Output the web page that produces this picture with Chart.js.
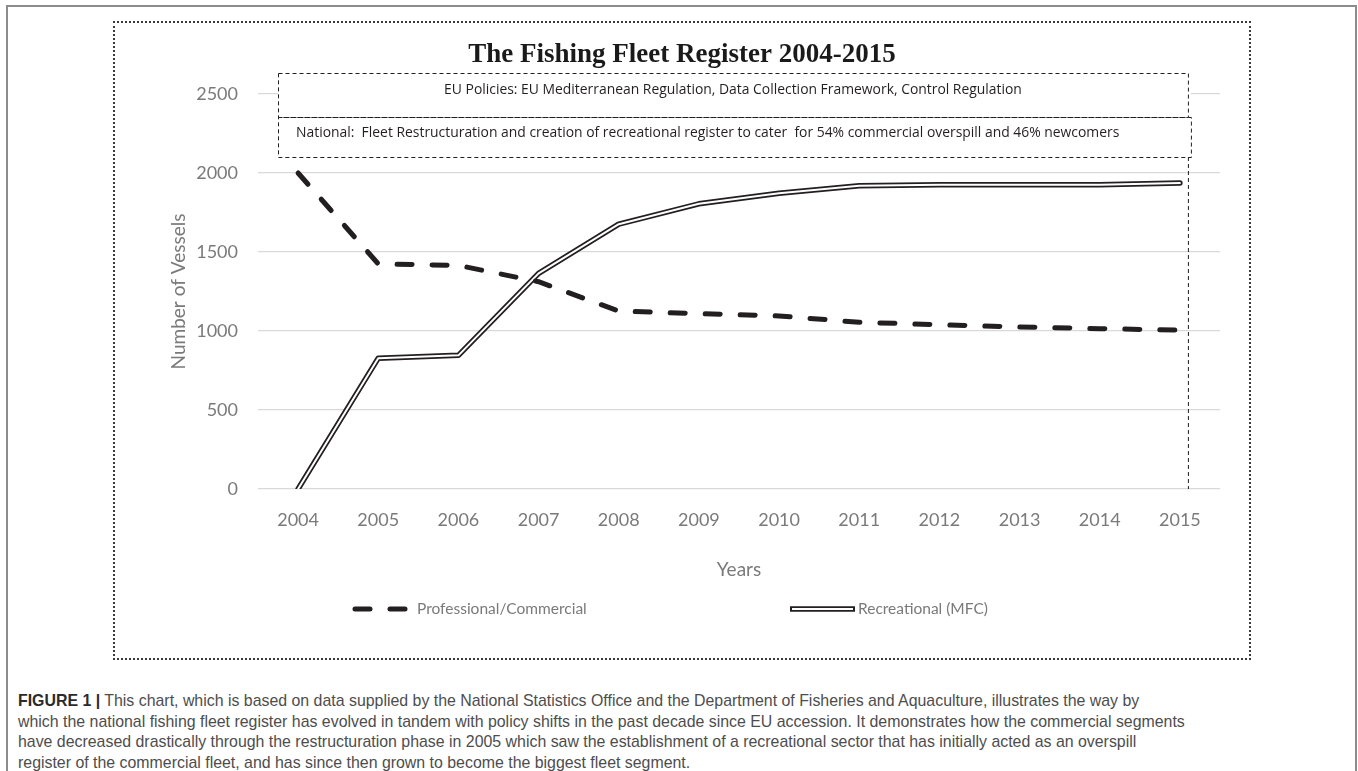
<!DOCTYPE html>
<html>
<head>
<meta charset="utf-8">
<script src="https://cdn.jsdelivr.net/npm/chart.js@4.4.0/dist/chart.umd.min.js"></script>
<style>
    html, body { margin: 0; padding: 0; background: #fff; }
    body { width: 1358px; height: 771px; position: relative; overflow: hidden; }
    #frame {
        position: absolute; left: 6px; top: 5px; width: 1347px; height: 800px;
        border: 2px solid #8c8c8c; border-bottom: none;
    }
    #chartBox {
        position: absolute; left: 113px; top: 21px; width: 1134px; height: 635px;
        border: 2px dotted #3a3a3a;
    }
    #chartBox canvas { position: absolute; left: 0; top: 0; }
    #caption {
        position: absolute; left: 18px; top: 691px;
        font-family: 'Liberation Sans', Arial, sans-serif; font-size: 15.9px; line-height: 20.5px;
        color: #4d4d4d; white-space: nowrap;
    }
    #caption b { color: #2b2b2b; }
</style>
</head>
<body>
<div id="frame"></div>
<div id="chartBox"><canvas id="fleetChart" width="1134" height="635"></canvas></div>
<div id="caption">
    <b>FIGURE 1 |</b> This chart, which is based on data supplied by the National Statistics Office and the Department of Fisheries and Aquaculture, illustrates the way by<br>
    which the national fishing fleet register has evolved in tandem with policy shifts in the past decade since EU accession. It demonstrates how the commercial segments<br>
    have decreased drastically through the restructuration phase in 2005 which saw the establishment of a recreational sector that has initially acted as an overspill<br>
    register of the commercial fleet, and has since then grown to become the biggest fleet segment.
</div>
<script>
// Data
const years = ['2004', '2005', '2006', '2007', '2008', '2009', '2010', '2011', '2012', '2013', '2014', '2015'];
const professional = [2000, 1425, 1415, 1312, 1126, 1110, 1095, 1055, 1040, 1025, 1015, 1005];
const recreational = [0, 828, 846, 1365, 1676, 1805, 1872, 1920, 1925, 1926, 1925, 1937];

const yTicks = [0, 500, 1000, 1500, 2000, 2500];

const chartTitle = 'The Fishing Fleet Register 2004-2015';
const policyNotes = [
    'EU Policies: EU Mediterranean Regulation, Data Collection Framework, Control Regulation',
    'National:  Fleet Restructuration and creation of recreational register to cater  for 54% commercial overspill and 46% newcomers'
];

const INK = '#231f20';
const AXIS_TEXT = '#7a7a7a';
const AXIS_FONT = 'Lato';

// Title, policy boxes, marker line for 2015
const decorPlugin = {
    id: 'decor',
    beforeDatasetsDraw(chart) {
        const { ctx, chartArea, scales: { x } } = chart;
        const left = chartArea.left + 20;
        const right1 = x.getPixelForValue(11) + 8;
        const right2 = right1 + 3;
        const top1 = chartArea.top - 21;
        const mid = chartArea.top + 23;
        const bottom2 = chartArea.top + 63;

        ctx.save();
        ctx.fillStyle = '#fff';
        ctx.fillRect(left, top1, right2 - left, bottom2 - top1);

        ctx.strokeStyle = INK;
        ctx.lineWidth = 1;
        ctx.setLineDash([4, 3]);
        ctx.strokeRect(left + 0.5, top1 + 0.5, right1 - left, mid - top1);
        ctx.strokeRect(left + 0.5, mid + 0.5, right2 - left, bottom2 - mid);

        // vertical dashed line down to the x axis
        ctx.beginPath();
        ctx.moveTo(right1 + 0.5, bottom2);
        ctx.lineTo(right1 + 0.5, chartArea.bottom);
        ctx.stroke();
        ctx.setLineDash([]);

        ctx.fillStyle = INK;
        ctx.font = '13.9px "Open Sans"';
        ctx.textBaseline = 'middle';
        ctx.textAlign = 'center';
        ctx.fillText(policyNotes[0], (left + right1) / 2, top1 + 17);
        ctx.textAlign = 'left';
        ctx.fillText(policyNotes[1], left + 18, mid + 16);

        // chart title
        ctx.font = 'bold 27px "Liberation Serif"';
        ctx.textAlign = 'center';
        ctx.textBaseline = 'alphabetic';
        ctx.fillStyle = '#1a1a1a';
        ctx.fillText(chartTitle, chart.width / 2, 39);
        ctx.restore();
    },
    afterDraw(chart) {
        // legend drawn with the datasets' own styles
        const { ctx } = chart;
        const ds = chart.data.datasets;
        const y = 586;
        ctx.save();
        ctx.lineCap = 'round';

        // Professional/Commercial
        const prof = ds[2];
        ctx.strokeStyle = prof.borderColor;
        ctx.lineWidth = prof.borderWidth;
        ctx.beginPath();
        ctx.moveTo(240, y); ctx.lineTo(255, y);
        ctx.moveTo(275, y); ctx.lineTo(290, y);
        ctx.stroke();

        // Recreational (MFC) - double line
        ctx.lineCap = 'butt';
        ctx.strokeStyle = ds[0].borderColor;
        ctx.lineWidth = ds[0].borderWidth;
        ctx.beginPath(); ctx.moveTo(675, y); ctx.lineTo(740, y); ctx.stroke();
        ctx.strokeStyle = ds[1].borderColor;
        ctx.lineWidth = ds[1].borderWidth;
        ctx.beginPath(); ctx.moveTo(677, y); ctx.lineTo(738, y); ctx.stroke();

        ctx.fillStyle = AXIS_TEXT;
        ctx.font = '15.5px ' + AXIS_FONT;
        ctx.textBaseline = 'middle';
        ctx.textAlign = 'left';
        ctx.fillText(prof.label, 302, y);
        ctx.fillText(ds[0].label, 743, y);
        ctx.restore();
    }
};

const ctx = document.getElementById('fleetChart').getContext('2d');

new Chart(ctx, {
    type: 'line',
    data: {
        labels: years,
        datasets: [
            {
                label: 'Recreational (MFC)',
                data: recreational,
                order: 3,
                borderColor: INK,
                borderWidth: 5.5,
                pointRadius: 0,
                tension: 0,
                borderCapStyle: 'round',
                borderJoinStyle: 'round'
            },
            {
                label: 'Recreational (MFC) inner',
                data: recreational,
                order: 2,
                borderColor: '#ffffff',
                borderWidth: 2,
                pointRadius: 0,
                tension: 0,
                borderCapStyle: 'round',
                borderJoinStyle: 'round'
            },
            {
                label: 'Professional/Commercial',
                data: professional,
                order: 1,
                borderColor: INK,
                borderWidth: 5,
                borderDash: [15, 20],
                pointRadius: 0,
                tension: 0,
                borderCapStyle: 'round',
                borderJoinStyle: 'round'
            }
        ]
    },
    options: {
        responsive: false,
        animation: false,
        layout: { padding: { top: 71, right: 29, left: 0, bottom: 0 } },
        plugins: {
            legend: { display: false },
            tooltip: { enabled: false },
            title: { display: false }
        },
        scales: {
            x: {
                offset: true,
                grid: { display: false, drawTicks: false },
                border: { display: false },
                ticks: {
                    color: AXIS_TEXT,
                    font: { family: AXIS_FONT, size: 18 },
                    padding: 20,
                    maxRotation: 0
                },
                title: {
                    display: true,
                    text: 'Years',
                    color: AXIS_TEXT,
                    font: { family: AXIS_FONT, size: 19 },
                    padding: { top: 0, bottom: 77 }
                },
                afterFit: s => { s.height = 169; }
            },
            y: {
                min: 0,
                max: 2500,
                afterBuildTicks: s => { s.ticks = yTicks.map(v => ({ value: v })); },
                grid: { color: '#d9d9d9', lineWidth: 1.3, drawTicks: false },
                border: { display: false },
                ticks: {
                    color: AXIS_TEXT,
                    font: { family: AXIS_FONT, size: 18 },
                    padding: 20,
                    callback: v => String(v)
                },
                title: {
                    display: true,
                    text: 'Number of Vessels',
                    color: AXIS_TEXT,
                    font: { family: AXIS_FONT, size: 19 },
                    padding: { top: 52, bottom: 0 }
                },
                afterFit: s => { s.width = 143; }
            }
        }
    },
    plugins: [decorPlugin]
});
</script>
</body>
</html>
